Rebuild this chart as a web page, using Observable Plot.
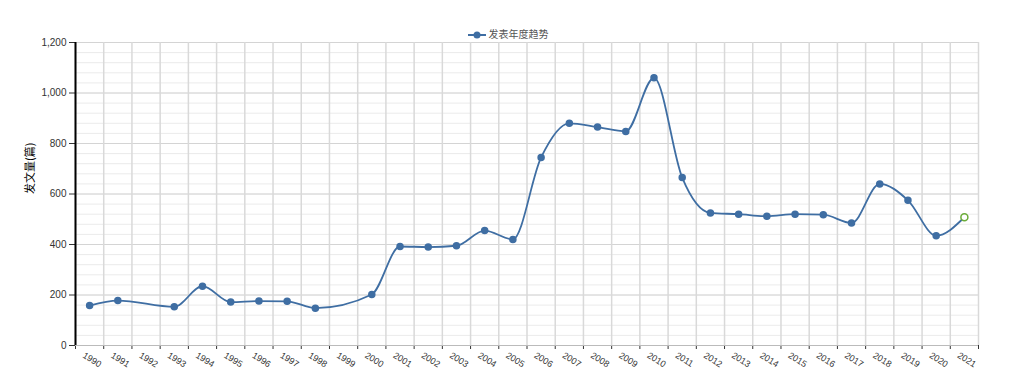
<!DOCTYPE html>
<html>
<head>
<meta charset="utf-8">
<script src="https://cdn.jsdelivr.net/npm/d3@7"></script>
<script src="https://cdn.jsdelivr.net/npm/@observablehq/plot@0.6"></script>
<style>
  body { margin: 0; background: #fff; }
  #wrap { position: relative; width: 1024px; height: 379px; }
  #legend { position: absolute; top: 26px; left: -4px; width: 1024px; text-align: center;
    font: 10px "Noto Sans CJK SC", "Liberation Sans", sans-serif; color: #555; pointer-events: none; }
  #legend svg { vertical-align: middle; margin-right: 3px; }
</style>
</head>
<body>
<div id="wrap">
  <div id="legend"></div>
</div>
<script>
const seriesName = "发表年度趋势";
const yLabel = "发文量(篇)";
const years = [1990,1991,1992,1993,1994,1995,1996,1997,1998,1999,2000,2001,2002,2003,2004,2005,2006,2007,2008,2009,2010,2011,2012,2013,2014,2015,2016,2017,2018,2019,2020,2021];
const counts = [158,178,null,153,235,172,176,175,148,null,202,392,390,395,455,420,745,880,865,848,1060,665,525,520,512,520,518,485,640,575,435,508];
const forecastYears = [2021];
const yTicks = [0,200,400,600,800,1000,1200];

const data = years.map((y, i) => ({year: y, value: counts[i], forecast: forecastYears.includes(y)}))
  .filter(d => d.value != null);
const bounds = d3.range(years[0] - 0.5, years[years.length - 1] + 1, 1);
const minorTicks = d3.range(0, 1201, 40);
const blue = "#3f6ea3";
const green = "#6aab38";

const chart = Plot.plot({
  width: 1024,
  height: 379,
  marginLeft: 75,
  marginRight: 46,
  marginTop: 42,
  marginBottom: 34,
  style: {fontFamily: '"Liberation Sans", "Noto Sans CJK SC", sans-serif', background: "#fff", overflow: "visible"},
  x: {domain: [years[0] - 0.5, years[years.length - 1] + 0.5]},
  y: {domain: [0, 1200]},
  marks: [
    Plot.ruleY(minorTicks, {stroke: "#ebebeb", strokeWidth: 1}),
    Plot.ruleY(yTicks, {stroke: "#d4d4d4", strokeWidth: 1}),
    Plot.ruleX(bounds, {stroke: "#d9d9d9", strokeWidth: 1.5}),
    Plot.axisY({ticks: yTicks, tickFormat: d3.format(","), tickSize: 6, fontSize: 10, color: "#333", label: null, tickPadding: 3}),
    Plot.axisX({ticks: bounds, tickFormat: () => "", tickSize: 4, label: null, stroke: "#333"}),
    Plot.text(years, {x: d => d, y: 0, text: d => String(d), rotate: 32, textAnchor: "start", dx: -6, dy: 9, fontSize: 9, fill: "#333"}),
    Plot.ruleY([0], {stroke: "#bbb"}),
    Plot.ruleX([years[0] - 0.5], {stroke: "#000", strokeWidth: 2}),
    Plot.text([yLabel], {frameAnchor: "left", rotate: -90, dx: -45, fontSize: 11, fill: "#000", fontFamily: '"Noto Sans CJK SC", sans-serif'}),
    Plot.line(data, {x: "year", y: "value", stroke: blue, strokeWidth: 1.8, curve: "monotone-x"}),
    Plot.dot(data.filter(d => !d.forecast), {x: "year", y: "value", r: 3, fill: blue, stroke: blue}),
    Plot.dot(data.filter(d => d.forecast), {x: "year", y: "value", r: 3.5, fill: "#fff", stroke: green, strokeWidth: 1.5})
  ]
});
document.getElementById("wrap").appendChild(chart);
document.getElementById("legend").innerHTML =
  `<svg width="18" height="8"><line x1="0" y1="4" x2="18" y2="4" stroke="${blue}" stroke-width="2"/><circle cx="9" cy="4" r="3.5" fill="${blue}"/></svg>${seriesName}`;
</script>
</body>
</html>
